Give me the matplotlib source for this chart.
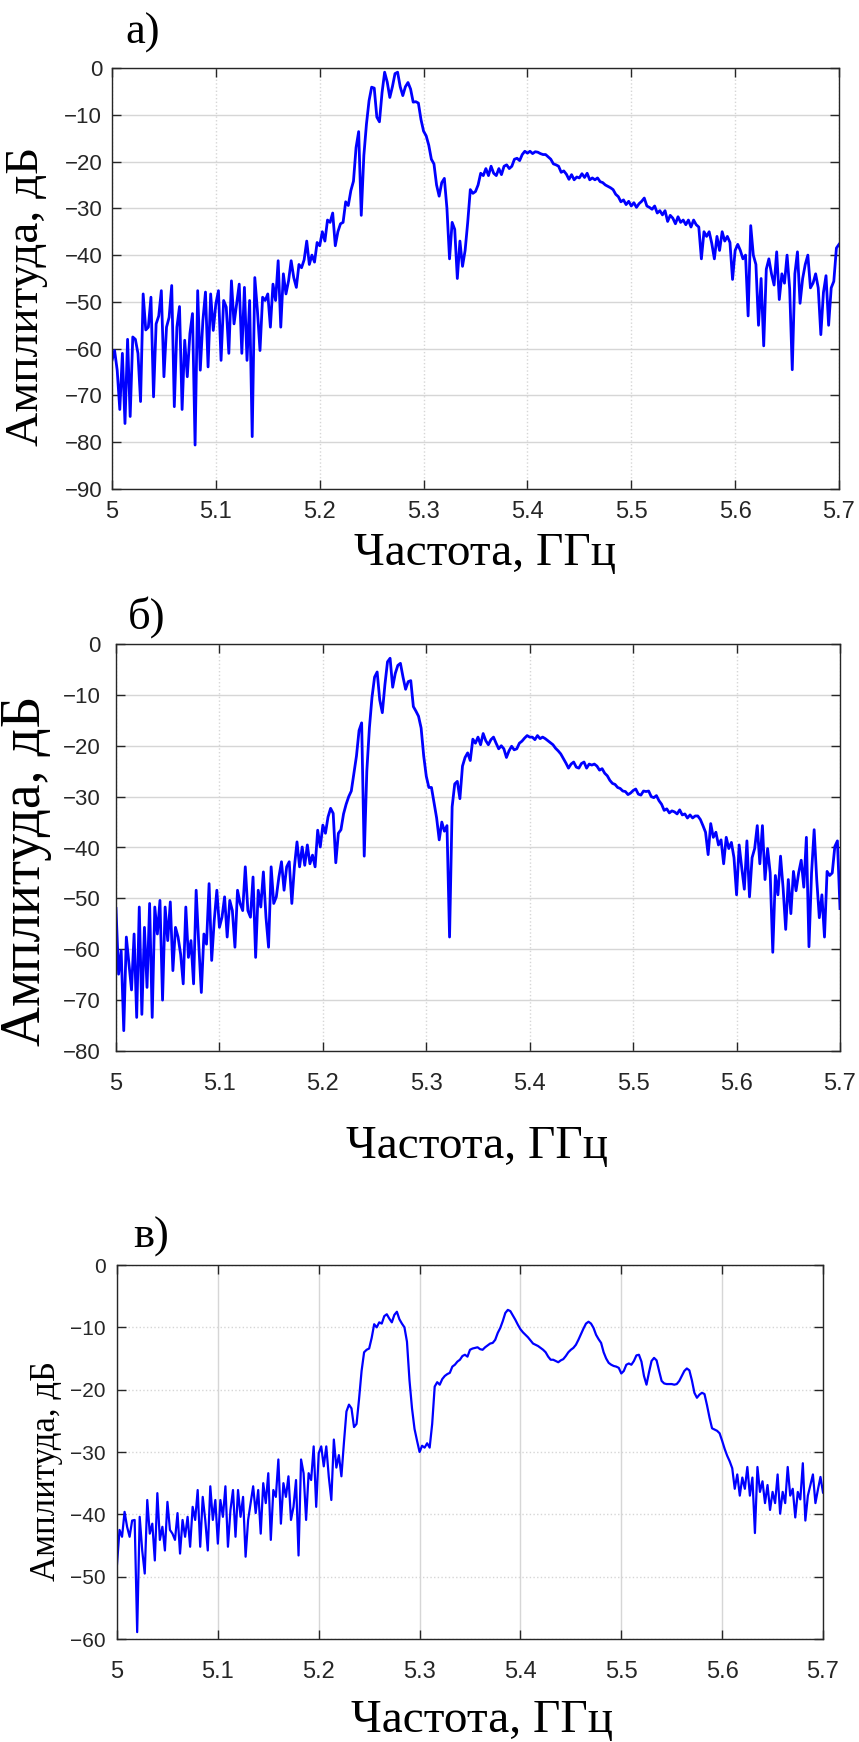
import numpy as np
import matplotlib
matplotlib.use("Agg")
import matplotlib.pyplot as plt

# frequency grid of the spectrum analyser, GHz (step 2.5 MHz)
N_POINTS = 281
freq = np.round(5.0 + 0.0025 * np.arange(N_POINTS), 4)

# a) amplitude, dB
amp_a = [
    -62.5, -60.4, -64.6, -73, -61, -76, -58, -74.5, -57.5, -58, -61, -71.3, -48.3, -56, -55.4, -49, -70.3, -54.7, -53, -47.6,
    -66, -55.4, -53.3, -46.5, -72.4, -55.4, -51, -73, -58.2, -66, -56.8, -52.5, -80.6, -47.6, -64.6, -54, -47.9, -63.9, -48.3, -56.1,
    -50.4, -47.6, -62.5, -49.7, -51.1, -61, -45.5, -54.7, -50.4, -46.2, -61, -46.9, -62.5, -49.7, -78.8, -44.8, -51.8, -60.4, -49, -49.7,
    -48.3, -55.4, -46.2, -49.7, -41.2, -55.4, -44, -48.3, -45.5, -41.2, -44.8, -46.9, -42, -42.7, -41, -37, -42, -40, -41.5, -37.3,
    -38, -35, -37, -32.5, -33, -31, -38, -35, -33.3, -33, -28.6, -29.4, -26.2, -24.2, -17, -13.6, -31.5, -18.7, -12, -7,
    -4.1, -4.3, -10.5, -11.5, -5.3, -0.9, -3, -6.3, -4, -1.2, -0.9, -4, -5.9, -4, -3.1, -4.5, -7.3, -7.2, -7.5, -11,
    -13.5, -14.5, -16.5, -19.5, -20.5, -25, -27.4, -24.5, -23.6, -30, -40.8, -33, -34.5, -45, -37, -42.4, -39, -33, -26, -26.8,
    -26.4, -25, -22.5, -23, -21.5, -23, -21, -22.5, -23, -21.5, -22.8, -21, -20.7, -21.5, -21, -19.5, -19.3, -19.8, -18.5, -17.8,
    -18.2, -17.8, -18.3, -17.9, -18, -18.3, -18.5, -18.5, -19, -19.5, -20.5, -20.7, -21, -22.3, -22, -22.7, -23.8, -22.8, -23.9, -23.3,
    -23.5, -22.6, -23.4, -22.5, -23.9, -23.5, -23.9, -23.5, -24.3, -24.5, -25, -25.3, -25.6, -26, -27, -27.5, -28.6, -28.2, -29.2, -28.5,
    -29.5, -28.8, -29.8, -29, -28.5, -27.8, -29.5, -29.8, -30.2, -29.5, -31, -30.5, -31.4, -30.5, -32.8, -31.5, -32.1, -33.3, -31.8, -33,
    -32.5, -33.5, -32.5, -34, -32.5, -33.5, -34, -40.8, -35, -36, -35, -37.5, -40.8, -36, -39, -35, -37, -36, -37.3, -45.2,
    -39, -37.7, -39, -40.8, -40, -53, -33.7, -40, -42, -55, -45, -59.4, -43, -40.8, -44, -46.4, -39.3, -49.5, -44, -46,
    -40, -47.2, -64.5, -44, -39.3, -50.3, -45, -42, -40, -47, -46, -44, -47, -57, -48, -44.4, -55, -47, -45.6, -38.5, -37.7,
]

# б) amplitude, dB
amp_b = [
    -52, -64.9, -60.3, -76, -57.6, -62.9, -68, -57, -73.4, -51.7, -72.8, -55.7, -67.5, -51, -73.4, -51.7, -57, -50.4, -70, -51.7,
    -58.3, -50.7, -64.2, -55.7, -57.6, -61, -66.8, -51.7, -61.6, -58.3, -66.8, -48.4, -59, -68.5, -57, -59, -47.1, -62.2, -54.3, -48.4,
    -55.7, -53.7, -49.7, -57.6, -50.4, -52.4, -59.6, -48.4, -51, -52.4, -43.8, -52.4, -53.7, -45.8, -61.6, -48.4, -51.7, -44.8, -53.7, -59.6,
    -43.8, -51, -49.7, -45.8, -42.8, -48.4, -43.8, -42.8, -51, -43.8, -38.9, -43.8, -39.9, -43.5, -39.5, -43.2, -41.5, -43.8, -36.6, -39.9,
    -35.6, -37.2, -34, -32.3, -33.3, -43, -37.2, -36.5, -33.4, -31.5, -30, -28.9, -25.5, -22, -17, -15.5, -41.7, -25, -16.5, -10.5,
    -6.5, -5.5, -11, -13.5, -8, -3.5, -2.8, -8.5, -5.8, -4.2, -3.8, -6.5, -8.9, -7.4, -7.2, -12.3, -13.2, -14.2, -16.5, -22,
    -26, -28.2, -28.2, -31.2, -34.2, -38.5, -35, -36.8, -35.7, -57.6, -32, -27.5, -27, -30.4, -24, -22.3, -21.4, -22.9, -18.7, -19.5,
    -18.3, -19.8, -17.6, -19, -19.8, -18.8, -18.3, -19.5, -20.6, -20, -20.6, -22.3, -21, -20.1, -20.8, -20.6, -19.5, -19.1, -18.5, -18,
    -18.3, -18.3, -18.8, -18, -18.6, -18.3, -18.6, -19, -19.4, -19.8, -20.5, -21, -21.6, -22.5, -23.4, -24.4, -23.6, -23.2, -24.2, -24.4,
    -23.5, -23.2, -24.4, -23.6, -23.8, -23.6, -24, -24.8, -24.5, -25.4, -25.9, -26.8, -27.4, -27.6, -28.2, -28.4, -28.9, -29, -29.6, -29.3,
    -28.8, -28.5, -29.5, -29.7, -28.9, -29, -28.9, -30, -30.2, -29.8, -30.8, -31.5, -32.7, -32.4, -33.2, -32.8, -33, -33.4, -32.6, -33.6,
    -33.4, -34.2, -33.6, -34.2, -33.8, -33.8, -34.5, -35.7, -37, -41.4, -35.3, -38, -37, -39.5, -38.5, -43.2, -38, -40.2, -39, -42,
    -49.3, -39.5, -44, -48.2, -38.7, -49.7, -42, -40.2, -35.7, -43.2, -35.7, -46.3, -40.2, -45, -60.6, -45.5, -49.3, -41.7, -48, -56.1,
    -46.3, -53, -44.7, -48.5, -45, -42.5, -47.8, -38, -59.5, -45, -36.5, -46.3, -53.8, -49.3, -57.6, -44.7, -45.5, -45, -39.8, -38.7, -52,
]

# в) amplitude, dB
amp_c = [
    -48, -42.5, -43.6, -39.6, -42, -43.6, -41, -40.9, -58.9, -40.4, -45.8, -49.5, -37.7, -43.1, -41.5, -47.4, -36.6, -44.1, -42, -45.8,
    -38, -42.5, -43.1, -44.1, -39.8, -46.3, -40.9, -43.6, -40.4, -45.2, -38.8, -40.9, -36.1, -45.2, -37.2, -40.9, -45.8, -35.5, -40.9, -37.7,
    -44.7, -37.7, -40.4, -35.5, -45.2, -39.3, -36.1, -43.6, -36.1, -40.4, -37.2, -46.8, -40.9, -38.2, -35.5, -39.8, -36.1, -43.1, -35, -38.2,
    -33.4, -44.1, -36.1, -37.2, -31.2, -41.5, -35, -37.2, -33.9, -40.9, -38.8, -34.5, -46.6, -31.2, -33.4, -40.9, -33.4, -34.5, -29.1, -38.8,
    -30.2, -29.1, -32.3, -29.1, -34, -37.7, -28, -32.5, -30.5, -33.9, -28.5, -23.5, -22.4, -23, -26, -25.5, -21.5, -17, -14, -13.6,
    -13.4, -11.7, -9.5, -10, -9.2, -9.4, -8.2, -7.9, -8.6, -9.2, -8, -7.5, -8.7, -9.4, -10, -12.3, -18.5, -23, -26.3, -28.2,
    -30, -29, -29.3, -28.6, -29.3, -25.5, -19.5, -18.8, -19.2, -18.3, -17.8, -17.5, -17.3, -16.3, -16, -15.5, -15.2, -14.6, -14.4, -14.7,
    -13.6, -13.4, -13.3, -13.2, -13.5, -13.6, -13.2, -12.9, -12.6, -12.5, -12, -10.9, -10.1, -9, -7.7, -7.2, -7.4, -8.1, -8.8, -9.6,
    -10.3, -10.8, -11.2, -11.6, -12.1, -12.6, -12.8, -13, -13.3, -13.6, -14, -14.7, -15.2, -15.2, -15.4, -15.6, -15.3, -15.1, -14.6, -14,
    -13.6, -13.3, -12.8, -12, -11.1, -10.2, -9.4, -9.1, -9.4, -10.1, -11.2, -11.9, -12.5, -14, -15, -15.7, -16, -16.2, -16.3, -16.5,
    -17.4, -17, -16, -15.8, -16, -15.4, -14.5, -14.4, -15.5, -17.8, -19.2, -17.2, -15.4, -14.9, -15.3, -17, -18.6, -19, -19.1, -19.1,
    -19.1, -19.2, -19.1, -18.6, -17.8, -17, -16.6, -16.9, -18.5, -20.5, -21.3, -20.8, -20.5, -20.7, -22.5, -24.5, -26.2, -26.4, -26.6, -27,
    -28.2, -29.5, -30.6, -31.5, -32.6, -35.9, -33.6, -37, -34.1, -35.9, -32.4, -37, -34.1, -43, -32.4, -36.4, -34.7, -38.2, -35.3, -39.3,
    -36.4, -38.2, -33.6, -39.9, -36.4, -38.2, -32.4, -37, -35.9, -40.5, -36.4, -37.6, -31.8, -41, -37, -35.3, -33.6, -38.2, -36, -34, -36.5,
]

x_ticks = [5.0, 5.1, 5.2, 5.3, 5.4, 5.5, 5.6, 5.7]
x_ticklabels = ["5", "5.1", "5.2", "5.3", "5.4", "5.5", "5.6", "5.7"]
panel_letters = ["а)", "б)", "в)"]
xlabel_text = "Частота, ГГц"
ylabel_text = "Амплитуда, дБ"

W, H = 859, 1742
fig = plt.figure(figsize=(W / 100, H / 100), dpi=100)


def px_rect(left, top, right, bottom):
    return [left / W, 1 - bottom / H, (right - left) / W, (bottom - top) / H]


serif = ["Liberation Serif", "DejaVu Serif"]
sans = ["Liberation Sans", "DejaVu Sans"]

panels = [
    # data, ymin, axes box (px), grid styles, line width, tick pads, label positions / sizes
    dict(amp=amp_a, ymin=-90, box=(112, 68, 839, 489), ygrid="-", xgrid=":", lw=2.0,
         xpad=9, ypad=7, ylab=(27, 296, 34), xlab=(485, 554, 34), letter=(143, 33, 32), ytick_fs=16),
    dict(amp=amp_b, ymin=-80, box=(116, 644, 840, 1051), ygrid="-", xgrid=":", lw=2.0,
         xpad=16, ypad=11, ylab=(26, 871, 40), xlab=(477, 1147, 34), letter=(147, 617, 32), ytick_fs=16),
    dict(amp=amp_c, ymin=-60, box=(117, 1265, 823, 1639), ygrid=":", xgrid="-", lw=1.6,
         xpad=16, ypad=8, ylab=(47, 1471, 25), xlab=(482, 1721, 34), letter=(151, 1237, 32), ytick_fs=15),
]

for k, p in enumerate(panels):
    ax = fig.add_axes(px_rect(*p["box"]))
    ax.plot(freq, p["amp"], color="#0000ff", lw=p["lw"])
    ax.set_xlim(5.0, 5.7)
    ax.set_ylim(p["ymin"], 0)
    ax.set_xticks(x_ticks)
    ax.set_xticklabels(x_ticklabels)
    ax.set_yticks(np.arange(p["ymin"], 1, 10))
    ax.grid(axis="y", color="#d6d6d6", lw=1.0, ls=p["ygrid"])
    ax.grid(axis="x", color="#d6d6d6", lw=1.0, ls=p["xgrid"])
    ax.tick_params(direction="in", length=6.5, width=1.0, color="#262626",
                   top=True, right=True)
    ax.tick_params(axis="x", labelsize=17, pad=p["xpad"], labelcolor="#262626")
    ax.tick_params(axis="y", labelsize=p["ytick_fs"], pad=p["ypad"], labelcolor="#262626")
    for lab in ax.get_xticklabels() + ax.get_yticklabels():
        lab.set_family(sans)
    for sp in ax.spines.values():
        sp.set_color("#262626")
        sp.set_linewidth(1.0)

    yx, yy, yfs = p["ylab"]
    fig.text(yx / W, 1 - yy / H, ylabel_text, rotation=90, ha="center", va="center",
             fontsize=yfs, family=serif)
    xx, xy, xfs = p["xlab"]
    fig.text(xx / W, 1 - xy / H, xlabel_text, ha="center", va="center",
             fontsize=xfs, family=serif)
    lx, ly, lfs = p["letter"]
    fig.text(lx / W, 1 - ly / H, panel_letters[k], ha="center", va="center",
             fontsize=lfs, family=serif)

fig.savefig("out.png", dpi=100)
